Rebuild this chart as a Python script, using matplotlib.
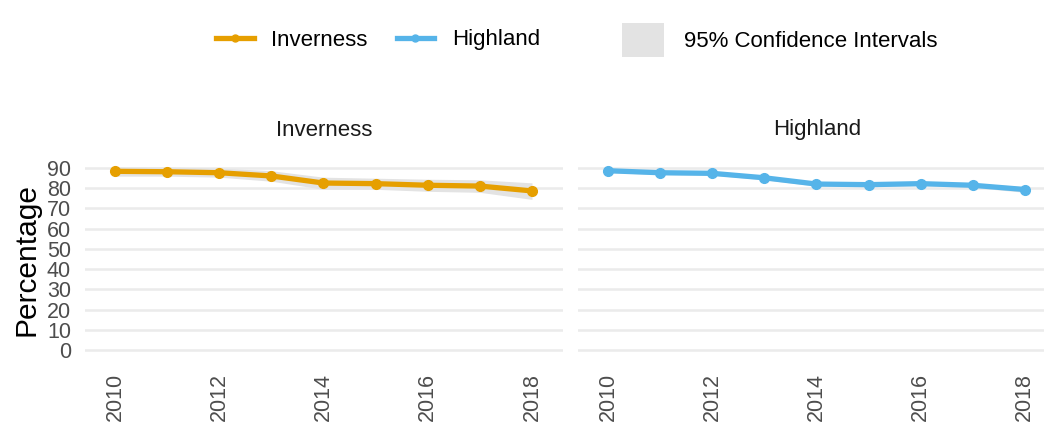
import numpy as np
import matplotlib.pyplot as plt
from matplotlib.lines import Line2D
from matplotlib.patches import Patch

plt.rcParams['font.family'] = ['Liberation Sans', 'DejaVu Sans']

years = [2010, 2011, 2012, 2013, 2014, 2015, 2016, 2017, 2018]

inverness = [88.4, 88.2, 87.7, 86.1, 82.6, 82.3, 81.5, 81.1, 78.7]
inverness_lo = [86.0, 86.0, 85.5, 83.5, 79.5, 79.5, 78.5, 78.0, 74.5]
inverness_hi = [90.6, 90.5, 90.0, 88.7, 85.5, 85.0, 84.5, 84.2, 82.7]

highland = [88.7, 87.7, 87.4, 85.2, 82.1, 81.8, 82.3, 81.5, 79.4]
highland_lo = [87.8, 86.8, 86.5, 84.2, 81.1, 80.8, 81.3, 80.4, 78.0]
highland_hi = [89.6, 88.6, 88.3, 86.2, 83.1, 82.8, 83.3, 82.6, 80.8]

yticks = list(range(0, 100, 10))
xticks = [2010, 2012, 2014, 2016, 2018]

orange = '#E69F00'
blue = '#56B4E9'
band = '#E3E3E3'

fig = plt.figure(figsize=(10.44, 4.23), dpi=100)
W, H = 1044, 423

ax1 = fig.add_axes([85 / W, 1 - 359 / H, 478 / W, 200 / H])
ax2 = fig.add_axes([578 / W, 1 - 359 / H, 466 / W, 200 / H])

panels = [
    (ax1, inverness, inverness_lo, inverness_hi, orange, 'Inverness', (85 + 563) / 2),
    (ax2, highland, highland_lo, highland_hi, blue, 'Highland', (578 + 1056) / 2),
]

for ax, vals, lo, hi, col, title, cx in panels:
    ax.fill_between(years, lo, hi, color=band, lw=0, zorder=2)
    ax.plot(years, vals, color=col, lw=3.8, marker='o', ms=7, zorder=3,
            solid_capstyle='round')
    ax.set_ylim(-4.5, 94.5)
    ax.set_yticks(yticks)
    ax.set_xticks(xticks)
    ax.set_xticklabels([str(x) for x in xticks], rotation=90)
    ax.grid(axis='y', color='#EBEBEB', lw=1.8, zorder=0)
    ax.grid(axis='x', visible=False)
    for s in ax.spines.values():
        s.set_visible(False)
    ax.tick_params(length=0, labelsize=15.5, labelcolor='#4D4D4D')
    ax.tick_params(axis='y', pad=10)
    ax.tick_params(axis='x', pad=10)
    fig.text(cx / W, 1 - 130 / H, title, ha='center', va='center',
             fontsize=16, color='#1A1A1A')

ax1.set_xlim(2010 - 30 / 52.1, 2018 + 31 / 52.1)
ax2.set_xlim(2010 - 30 / 52.1, 2010 - 30 / 52.1 + 466 / 52.1)
ax2.tick_params(labelleft=False)
ax1.set_ylabel('Percentage', fontsize=21.5, labelpad=5)

line_handles = [
    Line2D([], [], color=orange, lw=3.8, marker='o', ms=5),
    Line2D([], [], color=blue, lw=3.8, marker='o', ms=5),
]
fig.legend(line_handles, ['Inverness', 'Highland'], ncol=2,
           loc='center', bbox_to_anchor=(378 / W, 1 - 40 / H),
           frameon=False, fontsize=16, handlelength=1.7,
           columnspacing=1.3, handletextpad=0.8)
fig.legend([Patch(facecolor=band, edgecolor='none')],
           ['95% Confidence Intervals'], loc='center',
           bbox_to_anchor=(780 / W, 1 - 40 / H), frameon=False,
           fontsize=16, handlelength=1.9, handleheight=2.0,
           handletextpad=0.9)

fig.savefig('out.png', dpi=100)
